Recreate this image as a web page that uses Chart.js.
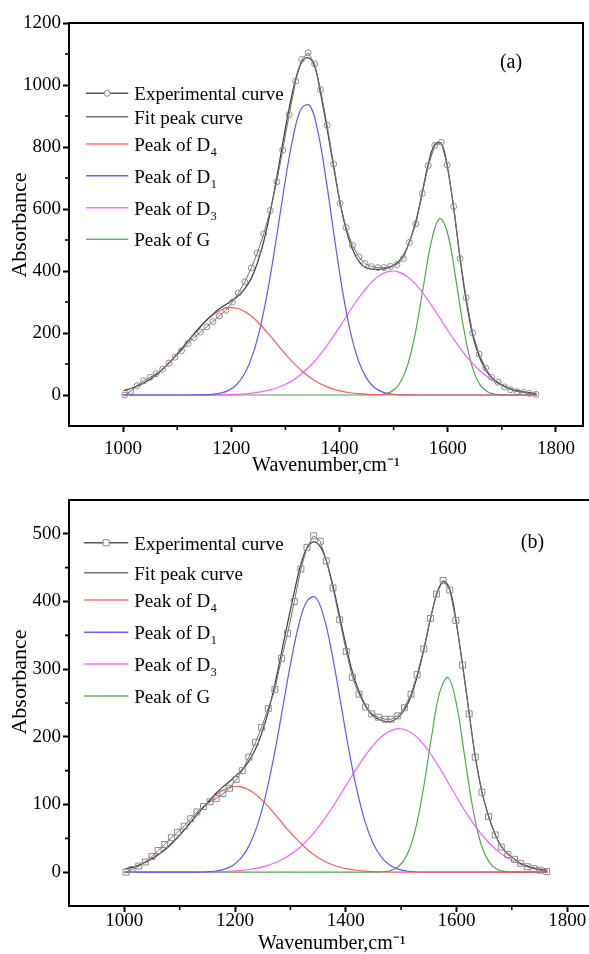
<!DOCTYPE html>
<html><head><meta charset="utf-8">
<script src="https://cdn.jsdelivr.net/npm/chart.js@4.4.1/dist/chart.umd.min.js"></script>
<style>
html,body{margin:0;padding:0;background:#fff;overflow:hidden;width:589px;height:954px;}
#wa{position:absolute;left:0;top:0;width:589px;height:477px;}
#wb{position:absolute;left:0;top:477px;width:600px;height:477px;}
</style></head><body>
<div id="wa"><canvas id="ca" width="589" height="477"></canvas></div>
<div id="wb"><canvas id="cb" width="600" height="477"></canvas></div>
<script>
// ---------- data ----------
const seriesNames = ['Experimental curve','Fit peak curve','Peak of D','Peak of D','Peak of D','Peak of G'];
const seriesSubs  = ['','','4','1','3',''];
const xTitle = 'Wavenumber,cm\u207B\u00B9';
const yTitle = 'Absorbance';
const xTicks = [1000,1200,1400,1600,1800];
const xTickLabels = ['1000','1200','1400','1600','1800'];
const xMinor = [1100,1300,1500,1700];
const yTicksA = [0,200,400,600,800,1000,1200];
const yTickLabelsA = ['0','200','400','600','800','1000','1200'];
const yMinorA = [100,300,500,700,900,1100];
const yTicksB = [0,100,200,300,400,500];
const yTickLabelsB = ['0','100','200','300','400','500'];
const yMinorB = [50,150,250,350,450];

// experimental sampling points (cm-1)
const expX = [1003,1014,1026,1038,1050,1061,1073,1085,1096,1108,
1120,1131,1143,1155,1166,1178,1190,1202,1213,1225,
1237,1248,1260,1272,1284,1295,1307,1319,1330,1342,
1354,1365,1377,1389,1401,1412,1424,1436,1447,1459,
1471,1482,1494,1506,1518,1529,1541,1553,1564,1576,
1588,1599,1611,1623,1634,1646,1658,1670,1681,1693,
1705,1716,1728,1740,1751,1763];
// component peak sampling points (cm-1)
const compX = [1000,1015,1030,1045,1060,1075,1090,1105,1120,1135,
1150,1165,1180,1195,1210,1225,1240,1255,1270,1285,
1300,1315,1330,1345,1360,1375,1390,1405,1420,1435,
1450,1465,1480,1495,1510,1525,1540,1555,1570,1585,
1600,1615,1630,1645,1660,1675,1690,1705,1720,1735,
1750,1765];

// ---- panel (a) ----
const expA = [0,12,30,46,57,69,83,103,122,143,
166,185,203,220,237,255,273,300,329,365,
410,458,520,595,688,790,905,1013,1083,1104,
1068,985,870,745,618,540,482,445,424,414,
411,411,415,421,440,492,552,650,740,805,
815,742,608,440,314,200,132,87,57,41,
26,17,11,8,5,2];
const fitA = [15,21,29,39,51,65,83,104,124,149,
174,197,221,243,261,278,292,306,320,343,
377,425,496,590,702,812,926,1019,1073,1088,
1060,972,859,737,620,534,470,430,412,406,
405,407,413,425,450,493,560,655,745,808,
812,740,602,437,305,194,124,82,56,40,
28,20,14,10,7,5];
const d4A = [13.6,21.1,31.6,45.7,63.9,86.3,112.7,142.3,173.6,204.8,
233.4,257.0,273.6,281.5,279.9,269.0,249.8,224.3,194.6,163.1,
132.2,103.5,78.4,57.4,40.6,27.7,18.3,11.7,7.2,4.3,
2.5,1.4,0.7,0.4,0.2,0.1,0,0,0,0,
0,0,0,0,0,0,0,0,0,0,
0,0];
const d1A = [0,0,0,0,0,0,0,0,0,0.2,
0.7,2.2,6.0,14.9,33.8,69.9,132.5,229.5,363.2,525.1,
694.4,838.6,925.9,933.2,849.3,696.2,513.9,341.7,204.6,110.4,
53.6,23.5,9.3,3.3,1.0,0.3,0.1,0,0,0,
0,0,0,0,0,0,0,0,0,0,
0,0];
const d3A = [0,0,0,0,0,0,0,0,0,0.1,
0.2,0.4,0.7,1.3,2.2,3.8,6.2,10.0,15.5,23.5,
34.5,49.3,68.5,92.6,121.7,155.4,193.0,233.0,273.5,312.1,
346.4,373.7,392.0,399.8,396.4,382.2,358.3,326.5,289.3,249.2,
208.8,170.0,134.6,103.6,77.6,56.4,40.0,27.5,18.4,12.0,
7.6,4.6];
const gA = [0,0,0,0,0,0,0,0,0,0,
0,0,0,0,0,0,0,0,0,0,
0,0,0,0,0,0,0,0,0,0,
0.1,0.5,2.4,10.1,33.9,91.4,199.1,350.0,496.7,568.9,
520.2,373.1,209.8,92.5,32.0,8.7,1.8,0.3,0,0,
0,0];

// ---- panel (b) ----
const expB = [0,4,9,15,23,32,41,51,59,68,
79,89,97,104,109,116,124,137,150,170,
192,214,242,270,316,353,400,448,480,497,
489,460,420,373,326,288,263,244,234,229,
226,226,231,243,263,292,330,375,411,431,
417,372,306,234,170,118,82,55,37,26,
19,13,8,5,3,1];
const fitB = [5,7,10,15,20,26,33,42,51,62,
74,85,96,107,117,126,134,143,151,164,
182,205,237,278,325,368,414,455,479,488,
481,460,423,378,333,296,267,246,233,226,
223,223,228,240,260,289,328,374,410,430,
418,373,307,235,171,119,83,56,38,27,
19,13,9,6,4,3];
const d4B = [4.7,7.6,11.7,17.4,25.0,34.6,46.2,59.5,73.8,88.4,
102.1,113.7,122.1,126.5,126.3,121.7,113.0,101.3,87.5,72.9,
58.5,45.4,33.9,24.4,17.0,11.4,7.3,4.6,2.8,1.6,
0.9,0.5,0.2,0.1,0,0,0,0,0,0,
0,0,0,0,0,0,0,0,0,0,
0,0];
const d1B = [0,0,0,0,0,0,0,0,0.1,0.2,
0.6,1.7,4.2,9.6,19.9,38.5,68.4,112.3,170.1,237.7,
306.6,364.9,400.8,406.1,378.3,323.8,254.6,183.8,122.0,74.3,
41.6,21.4,10.1,4.4,1.7,0.6,0.2,0,0,0,
0,0,0,0,0,0,0,0,0,0,
0,0];
const d3B = [0,0,0,0,0,0,0,0,0,0,
0.3,0.5,0.9,1.5,2.5,3.9,6.0,8.9,13.1,18.7,
26.0,35.4,46.9,60.8,76.9,94.8,114.2,134.2,153.9,172.2,
188.2,200.6,208.7,212.0,209.8,202.2,189.5,172.9,153.5,132.6,
111.4,91.2,72.6,56.2,42.4,31.1,22.2,15.4,10.4,6.8,
4.4,2.7];
const gB = [0,0,0,0,0,0,0,0,0,0,
0,0,0,0,0,0,0,0,0,0,
0,0,0,0,0,0,0,0,0,0,
0,0.4,2.1,7.9,24.1,60.2,121.9,200.0,266.2,287.5,
248.3,170.4,92.7,40.1,13.8,3.7,0.8,0.1,0,0,
0,0];

// ---------- styling ----------
const FONT = "'Liberation Serif','Times New Roman',serif";
const COLORS = ['#6e6e6e','#3c3c3c','#ff5a5a','#5a5aff','#ff5aff','#4fa84f'];
const LEGEND_COLORS = ['#555555','#777777','#ff7070','#6464ff','#ff70ff','#66b366'];

function pts(xs, ys){ return xs.map((x,i)=>({x:x, y:ys[i]})); }

const panelPlugin = {
  id: 'panel',
  afterDatasetsDraw(chart, args, o) {
    const {ctx, chartArea:a, scales:{x, y}} = chart;
    ctx.save();
    ctx.strokeStyle = '#000';
    ctx.lineWidth = 2;
    ctx.strokeRect(a.left, a.top, a.right - a.left, a.bottom - a.top);
    ctx.lineWidth = 1.6;
    ctx.beginPath();
    o.minorX.forEach(v => { const p = x.getPixelForValue(v); ctx.moveTo(p, a.bottom); ctx.lineTo(p, a.bottom + 4); });
    o.minorY.forEach(v => { const p = y.getPixelForValue(v); ctx.moveTo(a.left, p); ctx.lineTo(a.left - 4, p); });
    ctx.stroke();
    // y axis title
    ctx.fillStyle = '#000';
    ctx.save();
    ctx.translate(o.ytX, o.ytY);
    ctx.rotate(-Math.PI / 2);
    ctx.font = '22px ' + FONT;
    ctx.textAlign = 'center';
    ctx.textBaseline = 'middle';
    ctx.fillText(yTitle, 0, 0);
    ctx.restore();
    // panel tag
    ctx.font = '20px ' + FONT;
    ctx.textAlign = 'center';
    ctx.textBaseline = 'middle';
    ctx.fillText(o.tag, o.tagX, o.tagY);
    // legend
    ctx.textAlign = 'left';
    ctx.textBaseline = 'alphabetic';
    o.rows.forEach((ry, i) => {
      ctx.strokeStyle = LEGEND_COLORS[i];
      ctx.lineWidth = 1.5;
      ctx.beginPath(); ctx.moveTo(o.lx0, ry); ctx.lineTo(o.lx1, ry); ctx.stroke();
      if (i === 0) {
        const mx = (o.lx0 + o.lx1) / 2;
        ctx.fillStyle = '#fff'; ctx.strokeStyle = '#8c8c8c'; ctx.lineWidth = 1;
        ctx.beginPath();
        if (o.marker === 'rect') ctx.rect(mx - 3, ry - 3, 6, 6);
        else ctx.arc(mx, ry, 3, 0, Math.PI * 2);
        ctx.fill(); ctx.stroke();
      }
      ctx.fillStyle = '#000';
      ctx.font = '19px ' + FONT;
      const base = ry + 7;
      ctx.fillText(seriesNames[i], o.tx, base);
      if (seriesSubs[i]) {
        const w = ctx.measureText(seriesNames[i]).width;
        ctx.font = '12px ' + FONT;
        ctx.fillText(seriesSubs[i], o.tx + w + 0.5, base + 5);
      }
    });
    ctx.restore();
  }
};

function makeChart(id, d, cfg) {
  const ds = [
    {label: 'Experimental curve', data: pts(expX, d.exp), borderColor: COLORS[0], borderWidth: 1,
     pointStyle: cfg.marker, pointRadius: cfg.marker === 'rect' ? 4.2 : 3, pointBorderColor: '#8c8c8c',
     pointBackgroundColor: 'rgba(255,255,255,0)', pointBorderWidth: 1, tension: 0, order: 0},
    {label: 'Fit peak curve', data: pts(expX, d.fit), borderColor: COLORS[1], borderWidth: 1.2, pointRadius: 0, tension: 0.4, order: 1},
    {label: 'Peak of D4', data: pts(compX, d.d4), borderColor: COLORS[2], borderWidth: 1.2, pointRadius: 0, tension: 0.4, order: 2},
    {label: 'Peak of D1', data: pts(compX, d.d1), borderColor: COLORS[3], borderWidth: 1.2, pointRadius: 0, tension: 0.4, order: 3},
    {label: 'Peak of D3', data: pts(compX, d.d3), borderColor: COLORS[4], borderWidth: 1.2, pointRadius: 0, tension: 0.4, order: 4},
    {label: 'Peak of G', data: pts(compX, d.g), borderColor: COLORS[5], borderWidth: 1.2, pointRadius: 0, tension: 0.4, order: 5}
  ];
  return new Chart(document.getElementById(id), {
    type: 'line',
    data: {datasets: ds},
    plugins: [panelPlugin],
    options: {
      responsive: false, animation: false, devicePixelRatio: 1,
      layout: {padding: {top: 23, right: cfg.padRight, left: 0, bottom: 0}},
      plugins: {
        legend: {display: false}, tooltip: {enabled: false},
        panel: {minorX: xMinor, minorY: cfg.yMinor, tag: cfg.tag, tagX: cfg.tagX, tagY: cfg.tagY,
                rows: cfg.rows, lx0: cfg.lx0, lx1: 128.3, tx: 134.3, marker: cfg.marker,
                ytX: 20, ytY: cfg.ytY}
      },
      scales: {
        x: {
          type: 'linear', min: 900, max: 1850,
          afterBuildTicks: s => { s.ticks = xTicks.map(v => ({value: v})); },
          afterFit: s => { s.height = cfg.xh; },
          ticks: {autoSkip: false, maxRotation: 0, padding: cfg.xPad, color: '#000',
                  font: {family: FONT, size: 19}, callback: (v, i) => xTickLabels[i]},
          grid: {drawOnChartArea: false, drawTicks: true, tickLength: 6, tickWidth: 2, tickColor: '#000', color: '#000'},
          border: {display: false},
          title: {display: true, text: xTitle, color: '#000',
                  font: {family: FONT, size: 20, lineHeight: 1}, padding: {top: 0, bottom: cfg.xtPad}}
        },
        y: {
          type: 'linear', min: cfg.ymin, max: cfg.ymax,
          afterBuildTicks: s => { s.ticks = cfg.yTicks.map(v => ({value: v})); },
          afterFit: s => { s.width = 69; },
          ticks: {autoSkip: false, padding: 2, color: '#000',
                  font: {family: FONT, size: 19}, callback: (v, i) => cfg.yLabels[i]},
          grid: {drawOnChartArea: false, drawTicks: true, tickLength: 6, tickWidth: 2, tickColor: '#000', color: '#000'},
          border: {display: false}
        }
      }
    }
  });
}

makeChart('ca', {exp: expA, fit: fitA, d4: d4A, d1: d1A, d3: d3A, g: gA}, {
  marker: 'circle', padRight: 6, xh: 51, xtPad: 1, xPad: 6, ymin: -100, ymax: 1200,
  yTicks: yTicksA, yLabels: yTickLabelsA, yMinor: yMinorA,
  tag: '(a)', tagX: 511, tagY: 63, ytY: 225,
  rows: [93.3, 116.7, 144, 175.7, 207.7, 239.3], lx0: 86
});
makeChart('cb', {exp: expB, fit: fitB, d4: d4B, d1: d1B, d3: d3B, g: gB}, {
  marker: 'rect', padRight: 5, xh: 48, xtPad: 0, xPad: -2, ymin: -50, ymax: 550,
  yTicks: yTicksB, yLabels: yTickLabelsB, yMinor: yMinorB,
  tag: '(b)', tagX: 532.5, tagY: 65.5, ytY: 205,
  rows: [65.7, 95.7, 123, 155.3, 187, 219], lx0: 84
});
</script>
</body></html>
